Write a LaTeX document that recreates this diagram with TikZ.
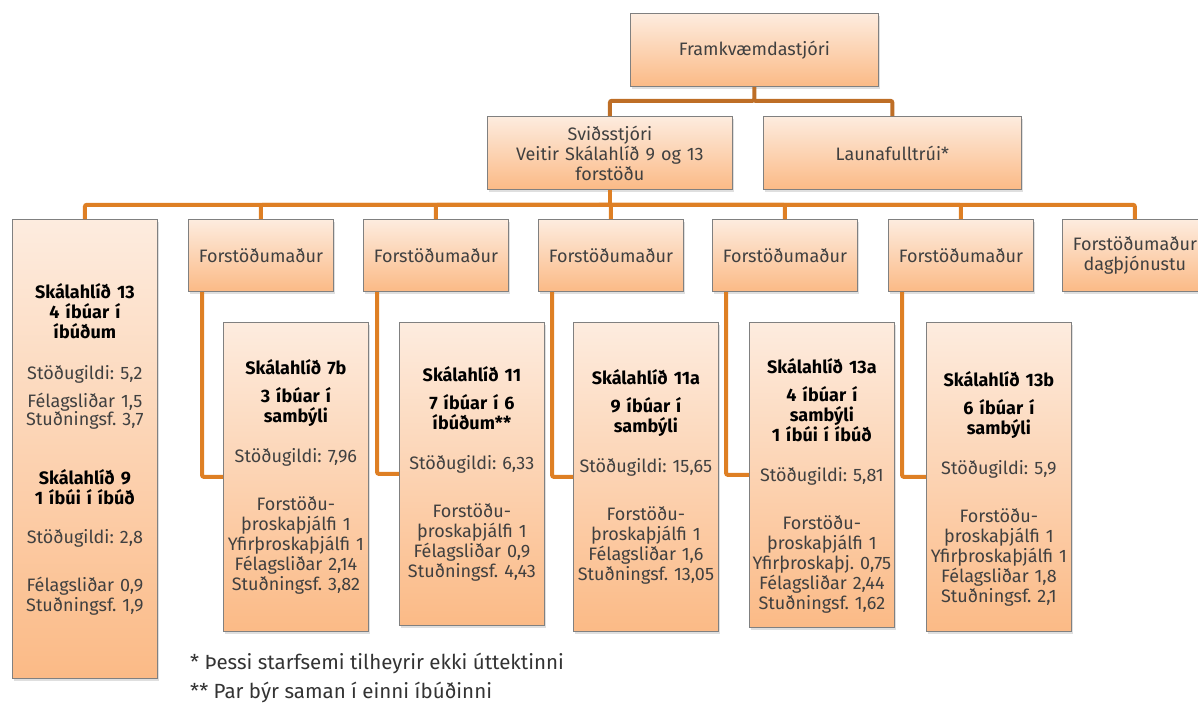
\documentclass[tikz,border=0pt]{standalone}
\usepackage{fontspec}
\setmainfont{Fira Sans}
\usetikzlibrary{shadows}
\frenchspacing
\definecolor{peachtop}{RGB}{253,236,223}
\definecolor{peachbot}{RGB}{251,186,134}
\definecolor{linkdark}{RGB}{190,110,38}
\definecolor{linkorange}{RGB}{222,127,36}
\def\boxw{145pt}
\def\headh{72pt}
\def\homey{322}
\newcommand\homehead{\color{black}\bfseries}
\newcommand\homebody{\color{black!75}\mdseries}

\begin{document}
\begin{tikzpicture}[x=1pt, y=-1pt,
    every node/.style={font=\fontsize{18}{20}\selectfont, text=black!75},
    orgbox/.style={draw=black!50, line width=.8pt, top color=peachtop, bottom color=peachbot,
                   drop shadow={shadow xshift=1.5pt, shadow yshift=-2.5pt, opacity=.25},
                   anchor=north west, align=center, inner sep=0pt},
    headbox/.style={orgbox, text width=\boxw, minimum height=\headh},
    homebox/.style={orgbox, text width=\boxw, minimum height=#1},
    lowered/.style={execute at begin node={\rule{0pt}{#1}}},
    link/.style={draw=linkorange, line width=4pt, rounded corners=2pt},
    link top/.style={link, draw=linkdark},
    note/.style={anchor=west, inner sep=0pt, text=black!80, font=\fontsize{20.5}{24}\selectfont}]
  \useasboundingbox (0,0) rectangle (1198,702);

  \node[orgbox, text width=248pt, minimum height=73pt] (boss) at (630,13) {Framkvæmdastjóri};
  \node[orgbox, text width=245pt, minimum height=73pt] (svid) at (487,116)
    {Sviðsstjóri\\Veitir Skálahlíð 9 og 13\\forstöðu};
  \node[orgbox, text width=258pt, minimum height=73pt] (launa) at (763,116) {Launafulltrúi*};

  % second row
  \node[homebox=459pt] (left) at (12,219)
    {\homehead Skálahlíð 13\\4 íbúar í\\íbúðum\\[21pt]
     \homebody Stöðugildi: 5,2\\[8pt]Félagsliðar 1,5\\[-2pt]Stuðningsf. 3,7\\[39pt]
     \homehead Skálahlíð 9\\1 íbúi í íbúð\\[19pt]
     \homebody Stöðugildi: 2,8\\[28pt]Félagsliðar 0,9\\Stuðningsf. 1,9};
  \foreach \x [count=\i] in {188,363,538,712,888}
    \node[headbox] (head\i) at (\x,219) {Forstöðumaður};
  \node[headbox] (head6) at (1062,219) {Forstöðumaður\\dagþjónustu};

  % homes
  \node[homebox=309pt] (home1) at (223,\homey)
    {\homehead Skálahlíð 7b\\[8pt]3 íbúar í\\sambýli\\[20pt]
     \homebody Stöðugildi: 7,96\\[28pt]Forstöðu-\\þroskaþjálfi 1\\Yfirþroskaþjálfi 1\\Félagsliðar 2,14\\Stuðningsf. 3,82};
  \node[homebox=303pt] (home2) at (399,\homey)
    {\homehead Skálahlíð 11\\[8pt]7 íbúar í 6\\íbúðum**\\[20pt]
     \homebody Stöðugildi: 6,33\\[28pt]Forstöðu-\\þroskaþjálfi 1\\Félagsliðar 0,9\\Stuðningsf. 4,43};
  \node[homebox=309pt] (home3) at (573,\homey)
    {\homehead Skálahlíð 11a\\[8pt]9 íbúar í\\sambýli\\[20pt]
     \homebody Stöðugildi: 15,65\\[28pt]Forstöðu-\\þroskaþjálfi 1\\Félagsliðar 1,6\\Stuðningsf. 13,05};
  \node[homebox=305pt, lowered=38pt] (home4) at (749,\homey)
    {\homehead Skálahlíð 13a\\[8pt]4 íbúar í\\sambýli\\1 íbúi í íbúð\\[20pt]
     \homebody Stöðugildi: 5,81\\[28pt]Forstöðu-\\þroskaþjálfi 1\\Yfirþroskaþj. 0,75\\Félagsliðar 2,44\\Stuðningsf. 1,62};
  \node[homebox=309pt, lowered=40pt] (home5) at (926,\homey)
    {\homehead Skálahlíð 13b\\[8pt]6 íbúar í\\sambýli\\[20pt]
     \homebody Stöðugildi: 5,9\\[28pt]Forstöðu-\\þroskaþjálfi 1\\Yfirþroskaþjálfi 1\\Félagsliðar 1,8\\Stuðningsf. 2,1};

  % connectors
  \draw[link top] (boss.south) -- ++(0,14) coordinate (split) -| (svid.north);
  \draw[link top] (split) -| (launa.north);
  \draw[link] (svid.south) -- ++(0,15) coordinate (bus);
  \foreach \n in {left,head1,head2,head3,head4,head5,head6}
    \draw[link] (bus) -| (\n.north);
  \foreach \i in {1,...,5}
    \draw[link] ([xshift=14pt]head\i.south west) |- (home\i.west);

  \node[note] (note1) at (190,663) {* Þessi starfsemi tilheyrir ekki úttektinni};
  \node[note] (note2) at (190,692) {** Par býr saman í einni íbúðinni};
\end{tikzpicture}
\end{document}
